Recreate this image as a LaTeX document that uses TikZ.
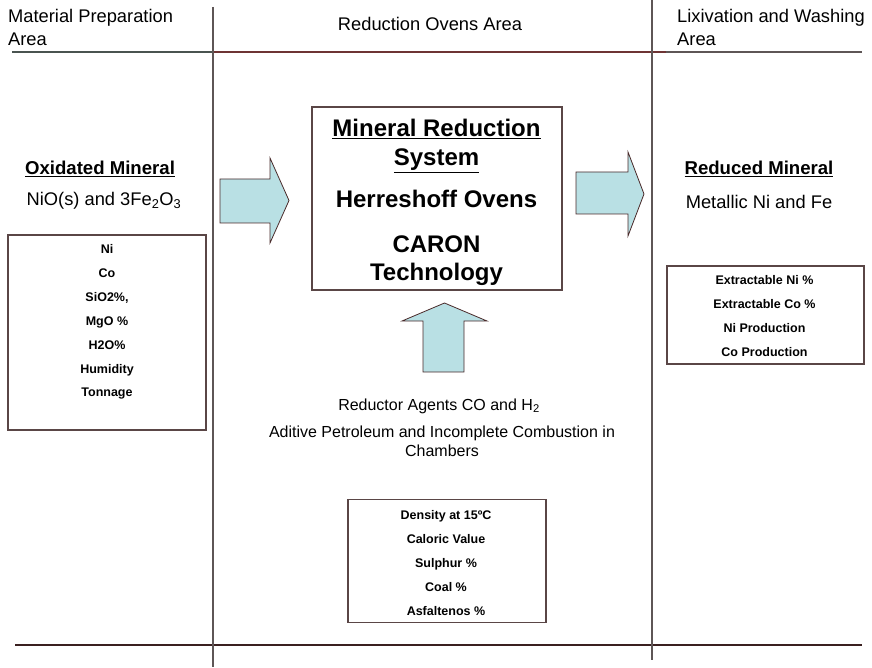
\documentclass[tikz,border=0pt]{standalone}
\usepackage{fontspec}
\setmainfont{Liberation Sans}
\usetikzlibrary{positioning}

\definecolor{arrowfill}{HTML}{B9E0E4}
\definecolor{arrowline}{HTML}{4A2A2A}
\definecolor{rulegray}{HTML}{5E5656}
\definecolor{rulegreen}{HTML}{4A5450}
\definecolor{rulered}{HTML}{6E3434}
\definecolor{ruledark}{HTML}{3A2020}
\definecolor{boxline}{HTML}{5A4646}

\begin{document}
\begin{tikzpicture}[x=1pt, y=-1pt,
        every node/.style={inner sep=0pt, anchor=base},
        head/.style={font=\fontsize{18.3}{21}\selectfont},
        title/.style={font=\fontsize{18.6}{21}\selectfont\bfseries},
        bigtitle/.style={font=\fontsize{24}{28}\selectfont\bfseries},
        note/.style={font=\fontsize{16}{18}\selectfont},
        item/.style={font=\fontsize{12.5}{14}\selectfont\bfseries},
        listbox/.style={draw=boxline, line width=1.2pt, anchor=center},
        rule/.style={line width=1.8pt},
        blockarrow/.style={fill=arrowfill, draw=arrowline, line width=0.8pt}]
    \useasboundingbox (0,0) rectangle (872,668);
    % column titles
    \node[head, anchor=base west] (prep)  at (8,23)   {Material Preparation};
    \node[head, anchor=base west] (prep2) at (8,46)   {Area};
    \node[head]                   (ovens) at (430,31) {Reduction Ovens Area};
    \node[head, anchor=base west] (lix)   at (677,23) {Lixivation and Washing};
    \node[head, anchor=base west] (lix2)  at (677,46) {Area};
    % column rules
    \draw[rule, rulegreen] (12,52) -- (213,52);
    \draw[rule, rulered]   (213,52) -- (666,52);
    \draw[rule, rulegray]  (666,52) -- (862,52);
    \draw[rule, ruledark]  (15,645) -- (862,645);
    \draw[rule, rulegray]  (213,7) -- (213,667);
    \draw[rule, rulegray]  (652,0) -- (652,660);
    % material preparation
    \node[title] (oxmin) at (100,175) {\underline{Oxidated Mineral}};
    \node[head]  (oxform) at (104,206) {NiO(s) and 3Fe\textsubscript{2}O\textsubscript{3}};
    \node[listbox, minimum width=198, minimum height=195] (oxbox) at (107,332.5) {};
    \foreach \t [count=\i] in {Ni, Co, {SiO2\%,}, {MgO \%}, H2O\%, Humidity, Tonnage}
        \node[item] (ox\i) at (107,253.5+23.9*\i-23.9) {\t};
    % reduction ovens
    \node[listbox, minimum width=250, minimum height=183] (ovenbox) at (437,198.5) {};
    \node[bigtitle] (sys1) at (436.5,137) {\underline{Mineral Reduction}};
    \node[bigtitle] (sys2) at (436.5,166) {\underline{System}};
    \node[bigtitle] (herr) at (436.5,208) {Herreshoff Ovens};
    \node[bigtitle] (caron1) at (436.5,252) {CARON};
    \node[bigtitle] (caron2) at (436.5,280) {Technology};
    \node[note] (agents) at (439,410) {Reductor Agents CO and H\textsubscript{2}};
    \node[note] (aditive) at (442,437) {Aditive Petroleum and Incomplete Combustion in};
    \node[note] (chamb) at (442,456) {Chambers};
    \node[listbox, minimum width=198, minimum height=123] (fuelbox) at (447,561) {};
    \foreach \t [count=\i] in {Density at 15ºC, Caloric Value, {Sulphur \%}, {Coal \%}, {Asfaltenos \%}}
        \node[item] (fuel\i) at (446,519.5+23.9*\i-23.9) {\t};
    % lixivation and washing
    \node[title] (redmin) at (759,175) {\underline{Reduced Mineral}};
    \node[head]  (redform) at (759,209) {Metallic Ni and Fe};
    \node[listbox, minimum width=197, minimum height=98] (redbox) at (765.5,315) {};
    \foreach \t [count=\i] in {{Extractable Ni \%}, {Extractable Co \%}, Ni Production, Co Production}
        \node[item] (red\i) at (764.5,284.5+24*\i-24) {\t};
    % block arrows
    \draw[blockarrow] (220,179) -- (270,179) -- (270,158) -- (289,200.5)
        -- (270,243) -- (270,223) -- (220,223) -- cycle;
    \draw[blockarrow] (576,172) -- (628,172) -- (628,152) -- (644,194)
        -- (628,236) -- (628,214) -- (576,214) -- cycle;
    \draw[blockarrow] (423,372) -- (423,321) -- (402,321) -- (444.5,303)
        -- (487,321) -- (464,321) -- (464,372) -- cycle;
\end{tikzpicture}
\end{document}
